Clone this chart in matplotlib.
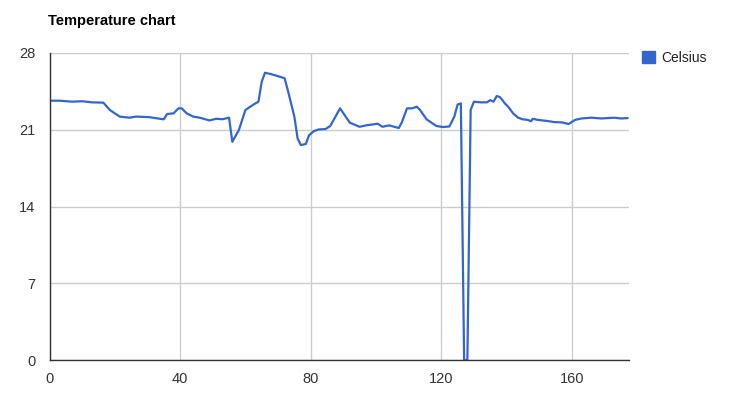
import matplotlib
matplotlib.use("Agg")
import matplotlib.pyplot as plt
from matplotlib.patches import Patch

plt.rcParams['font.family'] = ['Liberation Sans', 'DejaVu Sans']

# readings (index, temperature in Celsius)
idx = [0, 3, 7, 10, 13, 16.5, 18.5, 21.5, 24.5, 26.5, 30.5, 35, 36, 38, 39.5, 40.5,
       42, 44, 46, 49, 51, 53, 55, 56, 58, 60, 61.5, 62.5, 64, 65, 66, 67.5, 69.5,
       72, 73, 75, 76, 77, 78.5, 79.5, 81, 82.5, 84.5, 86, 89, 92, 95, 97, 100.5,
       102, 104, 107, 108, 109.5, 111, 112.5, 113.5, 115.5, 118.5, 120.5, 122.5,
       124, 125, 126, 127, 128, 129, 130, 132, 134, 135, 136, 137, 138, 139.5,
       140.5, 142, 143.5, 145, 146.5, 147.5, 148, 149.5, 152.5, 154.5, 157, 159,
       161, 163, 166, 169, 173, 175, 177]
celsius = [23.65, 23.65, 23.56, 23.6, 23.5, 23.47, 22.8, 22.2, 22.1, 22.2, 22.15,
           21.95, 22.43, 22.5, 22.95, 22.95, 22.5, 22.2, 22.1, 21.85, 22.0, 21.96,
           22.1, 19.9, 20.97, 22.8, 23.1, 23.3, 23.56, 25.38, 26.2, 26.1, 25.93,
           25.7, 24.6, 22.2, 20.2, 19.6, 19.7, 20.5, 20.88, 21.03, 21.06, 21.34,
           22.95, 21.64, 21.27, 21.4, 21.55, 21.27, 21.4, 21.16, 21.73, 22.95,
           22.95, 23.1, 22.8, 21.95, 21.34, 21.25, 21.3, 22.2, 23.3, 23.4, 0.0,
           0.0, 22.8, 23.56, 23.5, 23.5, 23.7, 23.56, 24.08, 23.97, 23.4, 23.1,
           22.5, 22.1, 21.95, 21.9, 21.77, 22.0, 21.9, 21.8, 21.7, 21.67, 21.52,
           21.9, 22.03, 22.1, 22.03, 22.1, 22.03, 22.06]
xticks = [0, 40, 80, 120, 160]
yticks = [0, 7, 14, 21, 28]

blue = '#3366cc'
W, H = 732, 405
fig = plt.figure(figsize=(W / 100, H / 100), dpi=100)
ax = fig.add_axes([49.5 / W, 1 - 360 / H, (629 - 49.5) / W, (360 - 53) / H])

ax.plot(idx, celsius, color=blue, lw=1.6, solid_joinstyle='round', zorder=3)

ax.set_xlim(0, 177.5)
ax.set_ylim(0, 28)
ax.set_xticks(xticks)
ax.set_yticks(yticks)
ax.grid(True, color='#cccccc', lw=1)
ax.set_axisbelow(True)
for s in ['top', 'right']:
    ax.spines[s].set_visible(False)
for s in ['left', 'bottom']:
    ax.spines[s].set_color('#333333')
    ax.spines[s].set_linewidth(1)
    ax.spines[s].set_zorder(4)
ax.tick_params(axis='both', length=0, labelsize=10.5, labelcolor='#333333')
ax.tick_params(axis='x', pad=8.5)
ax.tick_params(axis='y', pad=10)

fig.text(48.5 / W, 1 - 25 / H, 'Temperature chart', fontsize=10.5,
         fontweight='bold', color='black', va='baseline', ha='left')

fig.legend(handles=[Patch(facecolor=blue, edgecolor=blue, label='Celsius')],
           loc='upper left', bbox_to_anchor=(641.5 / W, 1 - 51 / H),
           frameon=False, fontsize=10, handlelength=1.0, handleheight=1.0,
           handletextpad=0.4, borderpad=0, borderaxespad=0, labelcolor='#222222')

fig.savefig('out.png', dpi=100)
